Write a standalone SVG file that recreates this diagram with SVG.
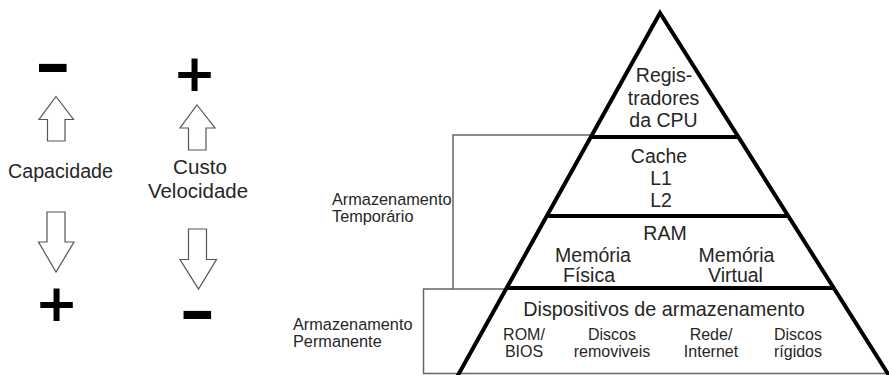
<svg xmlns="http://www.w3.org/2000/svg" width="889" height="375" viewBox="0 0 889 375">
<defs>
<style>
.t{font-family:"Liberation Sans",Arial,sans-serif;fill:#262626;}
.c{text-anchor:middle;}
.lg{font-size:19.5px;}
.md{font-size:16.3px;}
.sm{font-size:16px;}
.sym{font-family:"DejaVu Sans",sans-serif;font-weight:bold;fill:#000;text-anchor:middle;}
.arr{fill:#fff;stroke:#555;stroke-width:1.2;stroke-linejoin:miter;}
.edge{fill:none;stroke:#000;stroke-width:4;stroke-linejoin:miter;}
.div{stroke:#000;stroke-width:4;}
.br{fill:none;stroke:#666;stroke-width:1.5;}
</style>
</defs>
<rect width="889" height="375" fill="#fff"/>

<g id="legend-capacidade">
<text class="sym" transform="translate(53,66.5) scale(1,1.6)" x="0" y="14.5" font-size="44">−</text>
<path class="arr" d="M56,96.5 L73.5,119.5 L65,119.5 L65,141 L47.5,141 L47.5,119.5 L39,119.5 Z"/>
<text class="t c" x="60.5" y="178" font-size="19.5" textLength="105" lengthAdjust="spacingAndGlyphs">Capacidade</text>
<path class="arr" d="M47,212 L65,212 L65,242 L74,242 L56,272 L38.5,242 L47,242 Z"/>
<text class="sym" x="56.5" y="321" font-size="52">+</text>
</g>

<g id="legend-custo">
<text class="sym" x="194.5" y="91" font-size="52">+</text>
<path class="arr" d="M197,105 L215,128 L206,128 L206,150 L188.5,150 L188.5,128 L180,128 Z"/>
<text class="t c" x="200" y="174" font-size="19.5" textLength="54" lengthAdjust="spacingAndGlyphs">Custo</text>
<text class="t c" x="198" y="198" font-size="19.5" textLength="100" lengthAdjust="spacingAndGlyphs">Velocidade</text>
<path class="arr" d="M188.5,229 L206.5,229 L206.5,259.5 L216.5,259.5 L198.5,289 L180,259.5 L188.5,259.5 Z"/>
<text class="sym" transform="translate(197.5,313.3) scale(1,1.6)" x="0" y="14.5" font-size="44">−</text>
</g>

<g id="connectors">
<path class="br" d="M591,135 H453 V289"/>
<path class="br" d="M507,289 H423.5 V373.5 H889"/>
</g>

<g id="pyramid">
<polyline class="edge" points="457,377 660,13 890,377"/>
</g>

<g id="nivel-registradores">
<text class="t c lg" x="664" y="82">Regis-</text>
<text class="t c lg" x="663.5" y="105">tradores</text>
<text class="t c lg" x="663.5" y="127">da CPU</text>
</g>

<g id="nivel-cache">
<line class="div" x1="590" y1="137" x2="739" y2="137"/>
<text class="t c lg" x="659" y="163">Cache</text>
<text class="t c lg" x="661" y="185">L1</text>
<text class="t c lg" x="661" y="207">L2</text>
</g>

<g id="nivel-ram">
<line class="div" x1="546" y1="216" x2="789" y2="216"/>
<text class="t c lg" x="665" y="240">RAM</text>
<text class="t c lg" x="593" y="262">Memória</text>
<text class="t c lg" x="589" y="282">Física</text>
<text class="t c lg" x="736.5" y="262">Memória</text>
<text class="t c lg" x="735.5" y="282">Virtual</text>
</g>

<g id="nivel-dispositivos">
<line class="div" x1="506" y1="288" x2="835" y2="288"/>
<text class="t c" x="664" y="316" font-size="19.8">Dispositivos de armazenamento</text>
<text class="t c sm" x="524" y="340">ROM/</text>
<text class="t c sm" x="524" y="357">BIOS</text>
<text class="t c sm" x="612" y="340">Discos</text>
<text class="t c sm" x="612" y="357">removiveis</text>
<text class="t c sm" x="711" y="340">Rede/</text>
<text class="t c sm" x="711" y="357">Internet</text>
<text class="t c sm" x="798" y="340">Discos</text>
<text class="t c sm" x="798" y="357">rígidos</text>
</g>

<g id="label-temporario">
<text class="t md" x="332" y="205">Armazenamento</text>
<text class="t md" x="332" y="222">Temporário</text>
</g>

<g id="label-permanente">
<text class="t md" x="293" y="330">Armazenamento</text>
<text class="t md" x="293" y="347">Permanente</text>
</g>
</svg>
